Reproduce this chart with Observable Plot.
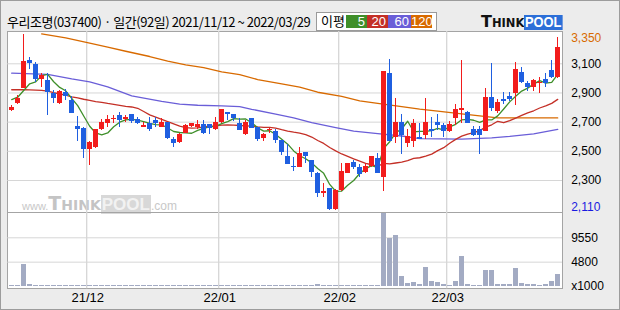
<!DOCTYPE html>
<html><head><meta charset="utf-8">
<script src="https://cdn.jsdelivr.net/npm/d3@7"></script>
<script src="https://cdn.jsdelivr.net/npm/@observablehq/plot@0.6"></script>
<style>
html,body{margin:0;padding:0;}
body{width:620px;height:310px;overflow:hidden;background:#ececec;position:relative;}
.abs{position:absolute;}
#border{left:0;top:0;width:620px;height:310px;box-sizing:border-box;border:1px solid #9c9c9c;}
#panel{left:7px;top:31px;width:556px;height:258px;box-sizing:border-box;background:#fff;border:1px solid #a4a4a4;}
#sep{left:7px;top:212px;width:556px;height:1px;background:#a4a4a4;}
#title{left:7px;top:13px;font:13px "Noto Sans CJK KR",sans-serif;letter-spacing:-0.45px;white-space:nowrap;color:#000;line-height:18px;}
#legend{left:316px;top:12px;width:121px;height:19px;box-sizing:border-box;border:1px solid #9a9a9a;background:#fff;}
#legend .nm{position:absolute;left:4px;top:0;font:13px "Noto Sans CJK KR",sans-serif;line-height:16px;}
#legend .bx{position:absolute;top:2px;height:13px;color:#fff;font:13px "Liberation Sans",Arial,sans-serif;line-height:14px;text-align:right;box-sizing:border-box;padding-right:2px;}
#logo{left:481px;top:12px;white-space:nowrap;line-height:18px;}
#wm{left:22px;top:192px;white-space:nowrap;color:#c8c8c8;line-height:18px;}
svg{position:absolute;left:0;}
</style></head>
<body>
<div id="border" class="abs"></div>
<div id="panel" class="abs"></div>
<div id="wm" class="abs"></div>
<div id="title" class="abs"></div>
<div id="legend" class="abs"></div>
<div id="logo" class="abs"></div>
<div id="sep" class="abs"></div>
<script>
// ---- data ----
const title = "우리조명(037400) · 일간(92일) 2021/11/12 ~ 2022/03/29";
const opens = [2780,2826,2933,3123,3095,2992,2986,2899,2830,2905,
  2849,2670,2657,2511,2524,2650,2693,2716,2743,2716,
  2752,2716,2666,2689,2711,2666,2698,2581,2563,2624,
  2673,2666,2682,2682,2650,2696,2766,2752,2689,2615,
  2725,2661,2590,2641,2638,2574,2465,2395,2391,2492,
  2437,2350,2213,2243,2101,2232,2350,2424,2391,2357,
  2398,2451,2323,3034,2593,2698,2552,2570,2592,2611,
  2652,2698,2675,2638,2727,2780,2766,2648,2648,2638,
  2867,2771,2855,2876,2899,3040,2967,2935,2963,2990,
  3054,3004];
const highs = [2814,2881,3301,3141,3111,3031,3031,2917,2917,2922,
  2878,2739,2665,2565,2651,2716,2743,2743,2766,2748,
  2755,2730,2700,2730,2734,2723,2700,2597,2620,2682,
  2693,2711,2711,2684,2730,2790,2768,2755,2723,2711,
  2727,2664,2624,2655,2652,2577,2547,2460,2524,2494,
  2440,2352,2277,2245,2236,2419,2419,2437,2410,2415,
  2467,2483,3050,3129,2862,2752,2648,2716,2693,2862,
  2734,2752,2689,2707,2821,3123,2775,2670,2670,2929,
  3100,2858,2903,2905,3107,3077,2981,2990,3004,3031,
  3123,3282];
const lows = [2773,2821,2929,3063,2974,2940,2746,2826,2821,2850,
  2758,2570,2449,2403,2517,2644,2666,2690,2666,2700,
  2690,2686,2662,2639,2666,2662,2581,2524,2551,2620,
  2666,2648,2615,2612,2644,2689,2711,2707,2641,2610,
  2655,2570,2570,2620,2552,2472,2408,2364,2387,2415,
  2319,2182,2186,2095,2095,2227,2345,2373,2319,2350,
  2391,2345,2227,2565,2552,2478,2524,2524,2580,2583,
  2597,2643,2597,2632,2679,2689,2689,2602,2478,2634,
  2771,2757,2821,2839,2816,2963,2912,2912,2899,2935,
  2999,3002];
const closes = [2803,2864,3116,3104,2992,3020,2905,2864,2908,2878,
  2762,2652,2511,2558,2648,2696,2718,2727,2711,2730,
  2707,2693,2677,2650,2689,2700,2586,2556,2613,2675,
  2689,2686,2624,2659,2696,2787,2755,2723,2643,2700,
  2659,2579,2615,2650,2574,2494,2410,2387,2483,2467,
  2357,2213,2225,2101,2232,2362,2415,2391,2341,2396,
  2465,2350,3047,2570,2698,2611,2602,2689,2584,2698,
  2638,2679,2638,2684,2785,2794,2693,2609,2611,2867,
  2794,2835,2842,2855,3059,2972,2935,2986,2974,2967,
  3004,3210];
const volumes = [200,200,4260,460,350,350,350,200,300,200,
  200,300,300,200,200,200,200,200,200,200,
  200,200,200,200,200,200,200,200,200,200,
  200,200,200,200,200,200,200,200,200,200,
  200,200,200,200,200,200,200,200,200,200,
  200,450,200,200,200,200,200,200,200,200,
  200,200,14300,9420,9960,2040,650,850,460,3820,
  1050,850,460,260,1050,6000,460,260,260,3230,
  3230,460,460,460,3620,650,460,460,260,460,
  1050,2440];
const ma5 = [2855,2871,2917,2963,2976,3019,3027,2977,2938,2915,
  2863,2813,2742,2672,2626,2613,2626,2669,2700,2716,
  2719,2714,2704,2691,2683,2682,2660,2636,2629,2626,
  2624,2644,2657,2667,2671,2690,2704,2724,2721,2722,
  2696,2661,2639,2641,2615,2582,2549,2503,2470,2449,
  2421,2382,2349,2273,2226,2227,2267,2300,2348,2381,
  2402,2389,2520,2566,2626,2655,2706,2634,2637,2637,
  2642,2658,2647,2667,2685,2716,2719,2713,2698,2715,
  2715,2743,2790,2839,2877,2913,2933,2961,2985,2967,
  2973,3028];
const ma20 = [2922,2922,2922,2921,2920,2918,2912,2902,2893,2885,
  2874,2866,2857,2849,2841,2835,2828,2822,2815,2808,
  2804,2795,2773,2750,2735,2719,2703,2688,2673,2663,
  2659,2661,2667,2672,2674,2679,2681,2680,2677,2675,
  2673,2667,2664,2664,2659,2648,2639,2631,2625,2614,
  2598,2574,2554,2526,2503,2482,2465,2448,2433,2418,
  2408,2397,2418,2414,2420,2426,2436,2451,2456,2467,
  2481,2505,2525,2555,2582,2604,2618,2629,2642,2666,
  2682,2706,2696,2710,2728,2746,2763,2778,2797,2811,
  2829,2856];
const ma60Idx = [0,6,10,13,16,20,25,28,31,35,38,40,44,47,50,54,57,61,65,68,75,80,83,87,91];
const ma60Val = [3036,3028,2996,2976,2942,2880,2843,2824,2816,2812,2807,2788,2755,2729,2697,2663,2638,2622,2605,2587,2583,2592,2602,2620,2650];
const ma120Idx = [5,9,13,16,19,23,26,29,32,35,38,41,45,48,51,55,58,61,65,68,71,75,78,81,85,91];
const ma120Val = [3305,3278,3241,3214,3186,3150,3118,3093,3074,3045,3026,2992,2962,2940,2905,2876,2846,2828,2807,2789,2775,2757,2743,2730,2729,2729];
const priceTicks = [3100,2900,2700,2500,2300];
const hiLabel = "3,350", loLabel = "2,110";
const volTicks = [9550,4800];
const volUnit = "x1000";
const monthStart = [13,35,55,73];
const monthLabels = ["21/12","22/01","22/02","22/03"];
const maNames = ["5","20","60","120"];
const maColors = ["#3f8f2a","#c43027","#6a5ed8","#d86a00"];

// ---- styles ----
const RED = "#f21c1c", BLUE = "#1f5fe0", GRID = "#d6d6d6", VOL = "#a3abc3";
const font = "'Liberation Sans', Arial, sans-serif";

// header
document.getElementById("title").textContent = title;
const lg = document.getElementById("legend");
lg.innerHTML = '<span class="nm">이평</span>';
const bxPos = [[29,21],[50,21],[71,23],[94,21]];
maNames.forEach((n,k)=>{
  const s = document.createElement("span");
  s.className = "bx"; s.textContent = n;
  s.style.left = bxPos[k][0]+"px"; s.style.width = bxPos[k][1]+"px"; s.style.background = maColors[k];
  lg.appendChild(s);
});
document.getElementById("logo").innerHTML =
  '<span style="font:900 16px \'DejaVu Sans\';color:#111;">T</span>' +
  '<span style="font:900 11.5px \'DejaVu Sans\';color:#111;">HINK</span>' +
  '<span style="display:inline-block;background:#2c6fd8;color:#fff;font:900 14px \'Liberation Sans\',Arial;padding:0 1px;line-height:15px;transform:scaleX(0.92);transform-origin:left;">POOL</span>';
document.getElementById("wm").innerHTML =
  '<span style="font:11px \'Liberation Sans\',Arial;">www.</span>' +
  '<span style="font:900 19px \'DejaVu Sans\';color:#c4c4c4;">T</span>' +
  '<span style="font:900 14px \'DejaVu Sans\';color:#c4c4c4;">HINK</span>' +
  '<span style="font:900 17px \'Liberation Sans\',Arial;color:#f2f2f2;background:#d8d8d8;padding:0 1px;">POOL</span>' +
  '<span style="font:12px \'Liberation Sans\',Arial;">.com</span>';

const rows = opens.map((o,i)=>({i, o, h: highs[i], l: lows[i], c: closes[i], v: volumes[i], col: closes[i] >= o ? RED : BLUE}));
const maRows = (idx, vals) => vals.map((v,k)=>({i: idx[k], v}));
const xDom = [-0.65, 91.8];
const hi = d3.max(highs), lo = d3.min(lows);

const price = Plot.plot({
  width: 620, height: 181, marginLeft: 7.3, marginRight: 58, marginTop: 0, marginBottom: 0,
  x: {domain: xDom, axis: null},
  y: {domain: [2080.7, 3321.4], axis: null},
  color: {type: "identity"},
  style: {background: "transparent", overflow: "visible", fontFamily: font, fontSize: "12px"},
  marks: [
    Plot.ruleY(priceTicks, {stroke: GRID, strokeWidth: 1}),
    Plot.ruleX(monthStart, {x: d => d - 0.5, stroke: GRID, strokeWidth: 1.3}),
    Plot.line(maRows(ma120Idx, ma120Val), {x: "i", y: "v", stroke: maColors[3], strokeWidth: 1.3}),
    Plot.line(maRows(ma60Idx, ma60Val), {x: "i", y: "v", stroke: maColors[2], strokeWidth: 1.3}),
    Plot.line(rows, {x: "i", y: (d,i) => ma20[i], stroke: maColors[1], strokeWidth: 1.3}),
    Plot.line(rows, {x: "i", y: (d,i) => ma5[i], stroke: maColors[0], strokeWidth: 1.3}),
    Plot.ruleX(rows, {x: "i", y1: "l", y2: "h", stroke: "col", strokeWidth: 1, shapeRendering: "crispEdges"}),
    Plot.rect(rows, {x1: d => d.i - 0.41, x2: d => d.i + 0.41, y1: "o", y2: "c", fill: "col", shapeRendering: "crispEdges"}),
    Plot.text(priceTicks, {y: d => d, text: d => d3.format(",")(d), frameAnchor: "right", textAnchor: "start", dx: 8.7, fill: "#000"}),
    Plot.text([hi], {y: d => d, text: [hiLabel], frameAnchor: "right", textAnchor: "start", dx: 8.7, dy: 4, fill: "#d86a00"}),
    Plot.text([lo], {y: d => d, text: [loLabel], frameAnchor: "right", textAnchor: "start", dx: 8.7, dy: -3, fill: "#1a1ae0"})
  ]
});
price.style.top = "31px";
document.body.appendChild(price);

const vol = Plot.plot({
  width: 620, height: 98, marginLeft: 7.3, marginRight: 58, marginTop: 0, marginBottom: 21.7,
  x: {domain: xDom, axis: null},
  y: {domain: [-390, 14481], axis: null},
  style: {background: "transparent", overflow: "visible", fontFamily: font, fontSize: "12px"},
  marks: [
    Plot.ruleY(volTicks, {stroke: GRID, strokeWidth: 1}),
    Plot.ruleX(monthStart, {x: d => d - 0.5, stroke: GRID, strokeWidth: 1.3}),
    Plot.rect(rows, {x1: d => d.i - 0.4, x2: d => d.i + 0.4, y1: 0, y2: "v", fill: VOL, shapeRendering: "crispEdges"}),
    Plot.text(volTicks, {y: d => d, text: d => String(d), frameAnchor: "right", textAnchor: "start", dx: 8.7, fill: "#000"}),
    Plot.text([0], {y: d => d, text: [volUnit], frameAnchor: "right", textAnchor: "start", dx: 8.7, dy: -0.6, fill: "#000"}),
    Plot.text(monthStart, {x: d => d - 0.5, text: monthLabels, frameAnchor: "bottom", dy: 13.4, dx: 1, fill: "#000", fontSize: 13, letterSpacing: 0.6})
  ]
});
vol.style.top = "212px";
document.body.appendChild(vol);
</script>
</body></html>
